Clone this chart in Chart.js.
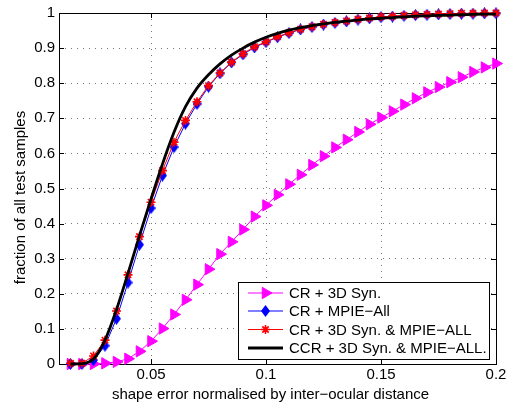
<!DOCTYPE html>
<html>
<head>
<meta charset="utf-8">
<script src="https://cdn.jsdelivr.net/npm/chart.js@4.4.1/dist/chart.umd.min.js"></script>
<style>
  html, body { margin: 0; padding: 0; background: #fff; }
  #wrap { width: 516px; height: 402px; }
</style>
</head>
<body>
<div id="wrap"><canvas id="cedChart" width="516" height="402"></canvas></div>
<script>
// shape error (normalised) sampled every 0.005
const errorSteps = [0.015, 0.02, 0.025, 0.03, 0.035, 0.04, 0.045, 0.05, 0.055, 0.06,
  0.065, 0.07, 0.075, 0.08, 0.085, 0.09, 0.095, 0.1, 0.105, 0.11,
  0.115, 0.12, 0.125, 0.13, 0.135, 0.14, 0.145, 0.15, 0.155, 0.16,
  0.165, 0.17, 0.175, 0.18, 0.185, 0.19, 0.195, 0.2];

const cr3dSyn = [0, 0, 0, 0.002, 0.006, 0.015, 0.036, 0.065, 0.101, 0.141,
  0.183, 0.226, 0.270, 0.313, 0.348, 0.383, 0.420, 0.452, 0.482, 0.512,
  0.539, 0.567, 0.592, 0.617, 0.639, 0.661, 0.683, 0.702, 0.720, 0.739,
  0.757, 0.774, 0.789, 0.803, 0.817, 0.832, 0.845, 0.856];

const crMpieAll = [0, 0, 0.011, 0.052, 0.129, 0.232, 0.340, 0.444, 0.537, 0.618,
  0.685, 0.741, 0.790, 0.828, 0.859, 0.882, 0.902, 0.917, 0.931, 0.943,
  0.953, 0.960, 0.967, 0.972, 0.976, 0.981, 0.985, 0.988, 0.990, 0.992,
  0.994, 0.995, 0.996, 0.997, 0.998, 0.998, 0.999, 0.999];

const crBoth = [0.002, 0.002, 0.023, 0.068, 0.151, 0.254, 0.363, 0.461, 0.551, 0.632,
  0.694, 0.747, 0.793, 0.829, 0.860, 0.884, 0.904, 0.918, 0.932, 0.944,
  0.954, 0.961, 0.968, 0.973, 0.977, 0.982, 0.986, 0.989, 0.991, 0.993,
  0.995, 0.996, 0.997, 0.998, 0.999, 0.999, 1.0, 1.0];

const ccrBoth = [0, 0.001, 0.014, 0.068, 0.155, 0.258, 0.366, 0.470, 0.570, 0.660,
  0.733, 0.786, 0.824, 0.855, 0.880, 0.900, 0.917, 0.931, 0.942, 0.951,
  0.958, 0.964, 0.969, 0.973, 0.977, 0.980, 0.983, 0.985, 0.987, 0.989,
  0.991, 0.992, 0.993, 0.994, 0.995, 0.996, 0.997, 0.997];

const seriesNames = ['CR + 3D Syn.', 'CR + MPIE\u2212All', 'CR + 3D Syn. & MPIE\u2212ALL', 'CCR + 3D Syn. & MPIE\u2212ALL.'];
const xTickValues = [0.05, 0.1, 0.15, 0.2];
const xTickLabels = ['0.05', '0.1', '0.15', '0.2'];
const yTickLabels = ['0', '0.1', '0.2', '0.3', '0.4', '0.5', '0.6', '0.7', '0.8', '0.9', '1'];

const FONT = 'Liberation Sans, Arial, Helvetica, sans-serif';

function pts(vals) {
  return errorSteps.map((x, i) => ({ x: x, y: vals[i] }));
}

// matlab style diamond is a bit taller than wide
function diamondMarker(w, h, color) {
  const c = document.createElement('canvas');
  c.width = w; c.height = h;
  const g = c.getContext('2d');
  g.fillStyle = color;
  g.beginPath();
  g.moveTo(w / 2, 0); g.lineTo(w, h / 2); g.lineTo(w / 2, h); g.lineTo(0, h / 2);
  g.closePath();
  g.fill();
  return c;
}
const blueDiamond = diamondMarker(9, 12, '#0000ff');

// frame, inward tick marks, axis titles
const matlabAxes = {
  id: 'matlabAxes',
  beforeDatasetsDraw(chart) {
    const { ctx, chartArea: a, scales: { x, y } } = chart;
    ctx.save();
    ctx.strokeStyle = '#000';
    ctx.lineWidth = 1;
    ctx.beginPath();
    xTickValues.forEach(v => {
      const px = Math.round(x.getPixelForValue(v)) + 0.5;
      ctx.moveTo(px, a.bottom); ctx.lineTo(px, a.bottom - 5);
      ctx.moveTo(px, a.top); ctx.lineTo(px, a.top + 5);
    });
    yTickLabels.forEach((t, i) => {
      const py = Math.round(y.getPixelForValue(i / 10)) + 0.5;
      ctx.moveTo(a.left, py); ctx.lineTo(a.left + 5, py);
      ctx.moveTo(a.right, py); ctx.lineTo(a.right - 5, py);
    });
    ctx.stroke();
    ctx.strokeRect(Math.round(a.left) + 0.5, Math.round(a.top) + 0.5,
      Math.round(a.right - a.left), Math.round(a.bottom - a.top));
    ctx.restore();
  },
  afterDraw(chart) {
    const { ctx, chartArea: a } = chart;
    ctx.save();
    ctx.fillStyle = '#000';
    ctx.font = '15px ' + FONT;
    ctx.textAlign = 'center';
    ctx.textBaseline = 'middle';
    ctx.fillText('shape error normalised by inter\u2212ocular distance', (a.left + a.right) / 2 - 7, 395);
    ctx.translate(21, (a.top + a.bottom) / 2 + 9);
    ctx.rotate(-Math.PI / 2);
    ctx.fillText('fraction of all test samples', 0, 0);
    ctx.restore();
  }
};

// legend box in lower right of the axes
const boxLegend = {
  id: 'boxLegend',
  afterDraw(chart) {
    const { ctx } = chart;
    const L = 238, T = 282, R = 489, B = 359;
    ctx.save();
    ctx.fillStyle = '#fff';
    ctx.fillRect(L, T, R - L, B - T);
    ctx.strokeStyle = '#000';
    ctx.lineWidth = 1;
    ctx.strokeRect(L + 0.5, T + 0.5, R - L, B - T);
    const rows = [293, 311, 329.5, 348];
    chart.data.datasets.forEach((ds, i) => {
      const ry = rows[i];
      ctx.strokeStyle = ds.borderColor;
      ctx.lineWidth = ds.borderWidth;
      ctx.beginPath();
      ctx.moveTo(248, ry); ctx.lineTo(283, ry);
      ctx.stroke();
      if (ds.pointRadius > 0) {
        ctx.fillStyle = ds.pointBackgroundColor;
        ctx.strokeStyle = ds.pointBorderColor;
        ctx.lineWidth = ds.pointBorderWidth;
        Chart.helpers.drawPoint(ctx, {
          pointStyle: ds.pointStyle, rotation: ds.pointRotation || 0,
          radius: ds.pointRadius, borderWidth: ds.pointBorderWidth
        }, 265.5, ry);
      }
      ctx.fillStyle = '#000';
      ctx.font = '15px ' + FONT;
      ctx.textAlign = 'left';
      ctx.textBaseline = 'middle';
      ctx.fillText(ds.label, 289, ry + 1);
    });
    ctx.restore();
  }
};

const ctx = document.getElementById('cedChart').getContext('2d');
const cedChart = new Chart(ctx, {
  type: 'line',
  data: {
    datasets: [{
      label: seriesNames[0],
      data: pts(cr3dSyn),
      borderColor: '#ff00ff', borderWidth: 1,
      pointStyle: 'triangle', pointRotation: 90, pointRadius: 6.5,
      pointBackgroundColor: '#ff00ff', pointBorderColor: '#ff00ff', pointBorderWidth: 1,
      order: 3
    }, {
      label: seriesNames[1],
      data: pts(crMpieAll),
      borderColor: '#0000ff', borderWidth: 1,
      pointStyle: blueDiamond, pointRadius: 5,
      pointBackgroundColor: '#0000ff', pointBorderColor: '#0000ff', pointBorderWidth: 1,
      order: 2
    }, {
      label: seriesNames[2],
      data: pts(crBoth),
      borderColor: '#ff0000', borderWidth: 1,
      pointStyle: 'star', pointRadius: 4.5,
      pointBackgroundColor: '#ff0000', pointBorderColor: '#ff0000', pointBorderWidth: 1.6,
      order: 1
    }, {
      label: seriesNames[3],
      data: pts(ccrBoth),
      borderColor: '#000000', borderWidth: 2.8,
      pointRadius: 0,
      cubicInterpolationMode: 'monotone',
      order: 0
    }]
  },
  options: {
    responsive: false,
    devicePixelRatio: 1,
    animation: false,
    events: [],
    clip: false,
    layout: { padding: { top: 10, right: 20, left: 0, bottom: 0 } },
    plugins: { legend: { display: false }, tooltip: { enabled: false } },
    scales: {
      x: {
        type: 'linear', min: 0.01, max: 0.2,
        afterBuildTicks: s => { s.ticks = xTickValues.map(v => ({ value: v })); },
        afterFit: s => { s.height = 38; },
        ticks: {
          color: '#000', padding: 2,
          font: { family: FONT, size: 15 },
          callback: (v) => xTickLabels[xTickValues.indexOf(v)]
        },
        grid: { color: '#777', lineWidth: 1, drawTicks: false },
        border: { display: false, dash: [1, 5] }
      },
      y: {
        min: 0, max: 1,
        afterBuildTicks: s => { s.ticks = yTickLabels.map((t, i) => ({ value: i / 10 })); },
        afterFit: s => { s.width = 59; },
        ticks: {
          color: '#000', padding: 4,
          font: { family: FONT, size: 15 },
          callback: (v) => yTickLabels[Math.round(v * 10)]
        },
        grid: { color: '#777', lineWidth: 1, drawTicks: false },
        border: { display: false, dash: [1, 5] }
      }
    }
  },
  plugins: [matlabAxes, boxLegend]
});
</script>
</body>
</html>
